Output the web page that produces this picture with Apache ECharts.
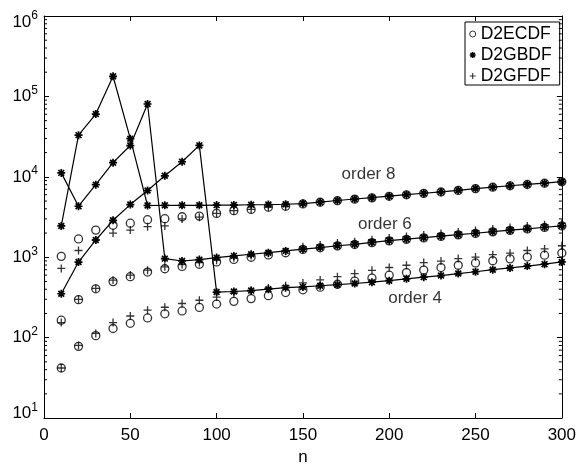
<!DOCTYPE html>
<html>
<head>
<meta charset="utf-8">
<script src="https://cdn.jsdelivr.net/npm/echarts@6/dist/echarts.min.js"></script>
<style>html,body{margin:0;padding:0;background:#fff}#c{width:579px;height:471px}</style>
</head>
<body>
<div id="c"></div>
<script>
// ---- data ----
const nValues = [10,20,30,40,50,60,70,80,90,100,110,120,130,140,150,160,170,180,190,200,210,220,230,240,250,260,270,280,290,300];

const ecdfOrder4 = [42,78,106,130,151,176,198,215,238,262,283,306,333,364,394,425,462,505,550,598,645,692,745,796,850,905,955,1005,1060,1130];
const ecdfOrder6 = [165,297,405,498,573,655,720,770,819,874,940,1000,1070,1138,1250,1310,1380,1440,1520,1600,1670,1740,1820,1900,1980,2070,2160,2250,2350,2450];
const ecdfOrder8 = [1026,1690,2175,2500,2650,2930,3015,3190,3250,3510,3800,3930,4190,4310,4600,4830,5050,5280,5480,5730,5980,6230,6480,6780,7130,7430,7730,8030,8330,8680];

const gbdfOrder4 = [352,872,1640,2880,4520,6760,10300,15400,24600,369,375,385,401,419,428,442,456,472,490,511,540,566,592,627,660,700,737,776,821,874];
const gbdfOrder6 = [11200,4310,8000,15000,24500,80500,962,899,935,990,1040,1090,1140,1200,1260,1320,1390,1450,1530,1610,1680,1750,1830,1910,1990,2080,2170,2260,2360,2460];
const gbdfOrder8 = [2450,33000,60300,178000,29800,4400,4420,4420,4430,4450,4460,4500,4520,4560,4650,4850,5080,5300,5500,5750,6000,6250,6500,6800,7150,7450,7750,8050,8350,8700];

const gfdfOrder4 = [42,80,113,154,186,220,239,266,292,320,358,383,414,441,480,522,574,627,688,746,796,859,896,962,1005,1076,1125,1214,1270,1390];
const gfdfOrder6 = [154,300,410,520,600,690,760,810,860,920,985,1050,1120,1190,1350,1420,1500,1560,1650,1740,1810,1890,1970,2060,2150,2240,2340,2440,2540,2650];
const gfdfOrder8 = [726,1214,1640,2000,2180,2400,2450,3000,3150,3510,3800,3930,4190,4310,4620,4850,5080,5300,5500,5750,6000,6250,6500,6800,7150,7450,7750,8050,8350,8700];

const xTicks = [0,50,100,150,200,250,300];
const yDecades = [1e1,1e2,1e3,1e4,1e5,1e6];
const legendNames = ['D2ECDF','D2GBDF','D2GFDF'];
const orderLabels = ['order 8','order 6','order 4'];

// ---- chart ----
const FONT = '"Liberation Sans", Arial, Helvetica, sans-serif';
const ASTERISK = 'path://M0,-1L0,1M-1,0L1,0M-0.72,-0.72L0.72,0.72M0.72,-0.72L-0.72,0.72';
const PLUS = 'path://M0,-1L0,1M-1,0L1,0';
const pair = arr => nValues.map((n, i) => [n, arr[i]]);

const minorTickValues = [];
for (let k = 0; k < yDecades.length - 1; k++) {
  for (let m = 2; m <= 9; m++) minorTickValues.push(m * yDecades[k]);
}
const minExp = Math.round(Math.log10(yDecades[0]));
const maxExp = Math.round(Math.log10(yDecades[yDecades.length - 1]));

function ecdfSeries(arr) {
  return { name: 'D2ECDF', type: 'scatter', data: pair(arr), symbol: 'circle', symbolSize: 8,
    itemStyle: { color: 'rgba(0,0,0,0)', borderColor: '#000', borderWidth: 1.3 }, z: 3 };
}
function gfdfSeries(arr) {
  return { name: 'D2GFDF', type: 'scatter', data: pair(arr), symbol: PLUS, symbolSize: 8,
    itemStyle: { color: 'rgba(0,0,0,0)', borderColor: '#000', borderWidth: 1.3 }, z: 3 };
}
function gbdfSeries(arr) {
  return { name: 'D2GBDF', type: 'line', data: pair(arr), symbol: ASTERISK, symbolSize: 8, showSymbol: true,
    lineStyle: { color: '#000', width: 1.2 },
    itemStyle: { color: 'rgba(0,0,0,0)', borderColor: '#000', borderWidth: 1.7 }, z: 4 };
}

const xCommon = { type: 'value', min: xTicks[0], max: xTicks[xTicks.length - 1], interval: xTicks[1] - xTicks[0],
  splitLine: { show: false },
  axisLine: { show: true, onZero: false, lineStyle: { color: '#000', width: 1 } },
  axisTick: { show: true, inside: true, length: 5, lineStyle: { color: '#000', width: 1 } } };
const yCommon = { type: 'log', logBase: 10, min: yDecades[0], max: yDecades[yDecades.length - 1], splitNumber: 5,
  splitLine: { show: false },
  axisLine: { show: true, onZero: false, lineStyle: { color: '#000', width: 1 } },
  axisTick: { show: true, inside: true, length: 5, lineStyle: { color: '#000', width: 1 } } };

const chart = echarts.init(document.getElementById('c'), null, { renderer: 'canvas' });
chart.setOption({
  animation: false,
  backgroundColor: '#fff',
  textStyle: { fontFamily: FONT, color: '#000' },
  grid: { left: 44, top: 16, width: 519, height: 409, containLabel: false },
  xAxis: [
    Object.assign({}, xCommon, { position: 'bottom',
      axisLabel: { show: true, color: '#000', fontSize: 17, fontFamily: FONT, margin: 9 },
      name: 'n', nameLocation: 'middle', nameGap: 29,
      nameTextStyle: { color: '#000', fontSize: 17, fontFamily: FONT } }),
    Object.assign({}, xCommon, { position: 'top', axisLabel: { show: false } })
  ],
  yAxis: [
    Object.assign({}, yCommon, { position: 'left',
      axisLabel: { show: true, margin: 6, color: '#000', fontFamily: FONT,
        formatter: function (v) {
          const e = Math.round(Math.log10(v));
          const s = e === minExp ? 'lo' : (e === maxExp ? 'hi' : '');
          return '{a' + s + '|10}{b' + s + '|' + e + '}';
        },
        rich: {
          a: { fontSize: 17, lineHeight: 17, fontFamily: FONT, color: '#000' },
          b: { fontSize: 12, lineHeight: 12, fontFamily: FONT, color: '#000', padding: [0, 0, 12, 0] },
          alo: { fontSize: 17, lineHeight: 17, fontFamily: FONT, color: '#000', padding: [0, 0, 9, 0] },
          blo: { fontSize: 12, lineHeight: 12, fontFamily: FONT, color: '#000', padding: [0, 0, 21, 0] },
          ahi: { fontSize: 17, lineHeight: 17, fontFamily: FONT, color: '#000', padding: [12, 0, 0, 0] },
          bhi: { fontSize: 12, lineHeight: 12, fontFamily: FONT, color: '#000' }
        } } }),
    Object.assign({}, yCommon, { position: 'right', axisLabel: { show: false } })
  ],
  legend: {
    orient: 'vertical', left: 465, top: 22,
    padding: [3, 8, 0, 4], itemGap: 3, itemWidth: 6, itemHeight: 6,
    borderColor: '#000', borderWidth: 1, backgroundColor: '#fff',
    textStyle: { fontSize: 17.5, fontFamily: FONT, color: '#000' },
    selectedMode: false,
    data: [
      { name: legendNames[0], icon: 'circle', itemStyle: { color: 'rgba(0,0,0,0)', borderColor: '#000', borderWidth: 1 } },
      { name: legendNames[1], icon: ASTERISK, itemStyle: { color: 'rgba(0,0,0,0)', borderColor: '#000', borderWidth: 1.4 } },
      { name: legendNames[2], icon: PLUS, itemStyle: { color: 'rgba(0,0,0,0)', borderColor: '#000', borderWidth: 1.1 } }
    ]
  },
  series: [
    ecdfSeries(ecdfOrder4), ecdfSeries(ecdfOrder6), ecdfSeries(ecdfOrder8),
    gfdfSeries(gfdfOrder4), gfdfSeries(gfdfOrder6), gfdfSeries(gfdfOrder8),
    gbdfSeries(gbdfOrder4), gbdfSeries(gbdfOrder6), gbdfSeries(gbdfOrder8),
    {
      name: 'minorTicks', type: 'custom', silent: true, z: 5,
      data: minorTickValues.map(v => [xTicks[0], v]),
      renderItem: function (params, api) {
        const v = api.value(1);
        const l = api.coord([xTicks[0], v]);
        const r = api.coord([xTicks[xTicks.length - 1], v]);
        return { type: 'group', children: [
          { type: 'line', shape: { x1: l[0], y1: l[1], x2: l[0] + 3, y2: l[1] }, style: { stroke: '#000', lineWidth: 1 } },
          { type: 'line', shape: { x1: r[0] - 3, y1: r[1], x2: r[0], y2: r[1] }, style: { stroke: '#000', lineWidth: 1 } }
        ] };
      }
    },
    {
      name: 'orderLabels', type: 'scatter', silent: true, symbolSize: 0, z: 6,
      data: [
        { name: orderLabels[0], value: [188, 10900] },
        { name: orderLabels[1], value: [197.5, 2590] },
        { name: orderLabels[2], value: [215, 305] }
      ],
      label: { show: true, position: [0, 0], align: 'center', verticalAlign: 'middle',
        formatter: '{b}', fontSize: 17, fontFamily: FONT, color: '#000' }
    }
  ]
});
</script>
</body>
</html>
